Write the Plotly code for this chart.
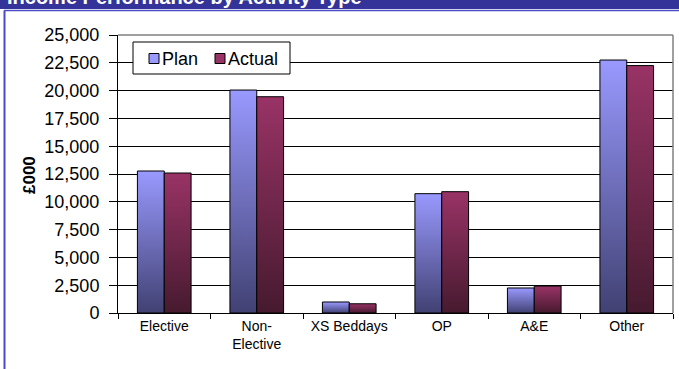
import plotly.graph_objects as go

# Income by activity type, £000
categories = ["Elective", "Non-<br>Elective", "XS Beddays", "OP", "A&E", "Other"]
plan_values = [12770, 20050, 990, 10730, 2250, 22750]
actual_values = [12590, 19450, 830, 10910, 2420, 22250]
y_ticks = list(range(0, 25001, 2500))

series_names = ["Plan", "Actual"]
series_colors = ["#9999ff", "#993366"]
series_shade = ["#414173", "#461a2f"]

FONT = "Liberation Sans, Arial, sans-serif"
W, H = 679, 369
ML, MR, MT, MB = 118, 6, 35, 56
PW, PH = W - ML - MR, H - MT - MB


def px_x(x):
    return (x - ML) / PW


def px_y(y):
    return (H - MB - y) / PH


fig = go.Figure()
for name, vals, col in zip(series_names, [plan_values, actual_values], series_colors):
    fig.add_trace(go.Bar(
        name=name, x=categories, y=vals,
        marker=dict(color=col, line=dict(color="#000000", width=1)),
    ))

shapes = [
    # header band
    dict(type="rect", xref="paper", yref="paper",
         x0=px_x(-5), x1=px_x(W + 5), y0=px_y(9), y1=px_y(-10),
         fillcolor="#333399", line=dict(width=0), layer="below"),
    # panel frame
    dict(type="line", xref="paper", yref="paper",
         x0=px_x(4), x1=px_x(W + 10), y0=px_y(10.5), y1=px_y(10.5),
         line=dict(color="#4b4bc8", width=1.5)),
    dict(type="line", xref="paper", yref="paper",
         x0=px_x(4.5), x1=px_x(4.5), y0=px_y(10.5), y1=px_y(H + 10),
         line=dict(color="#4b4bc8", width=2)),
    # plot area top and right edges
    dict(type="line", xref="paper", yref="paper", x0=0, x1=1, y0=1, y1=1,
         line=dict(color="#808080", width=1.5), layer="above"),
    dict(type="line", xref="paper", yref="paper", x0=1, x1=1, y0=0, y1=1,
         line=dict(color="#808080", width=1.5), layer="above"),
    # legend box
    dict(type="rect", xref="paper", yref="paper",
         x0=px_x(133), x1=px_x(290), y0=px_y(74), y1=px_y(42),
         fillcolor="#ffffff", line=dict(color="#000000", width=1), layer="above"),
]

annotations = [
    dict(text="<b>Income Performance by Activity Type</b>", xref="paper", yref="paper",
         x=px_x(5), y=px_y(-3), xanchor="left", yanchor="middle", showarrow=False,
         font=dict(family=FONT, size=20, color="#ffffff")),
    dict(text="<b>£000</b>", xref="paper", yref="paper", x=px_x(29), y=px_y(175),
         xanchor="center", yanchor="middle", textangle=-90, showarrow=False,
         font=dict(family=FONT, size=17, color="#000000")),
]

# legend keys and labels
key_x = [149, 215]
for kx, name, col in zip(key_x, series_names, series_colors):
    shapes.append(dict(type="rect", xref="paper", yref="paper",
                       x0=px_x(kx), x1=px_x(kx + 10), y0=px_y(63.5), y1=px_y(53.5),
                       fillcolor=col, line=dict(color="#000000", width=1), layer="above"))
    annotations.append(dict(text=name, xref="paper", yref="paper",
                            x=px_x(kx + 12), y=px_y(58.5), xanchor="left", yanchor="middle",
                            showarrow=False, borderpad=0,
                            font=dict(family=FONT, size=18, color="#000000")))

fig.update_layout(
    width=W, height=H,
    margin=dict(l=ML, r=MR, t=MT, b=MB, pad=0),
    paper_bgcolor="#ffffff", plot_bgcolor="#ffffff",
    font=dict(family=FONT, size=14, color="#000000"),
    barmode="group", bargap=0.42, bargroupgap=0,
    showlegend=False,
    shapes=shapes, annotations=annotations,
    xaxis=dict(type="category", showline=True, linecolor="#000000", linewidth=1,
               ticks="outside", tickson="boundaries", ticklen=5, tickcolor="#000000",
               showgrid=False, tickfont=dict(family=FONT, size=14), fixedrange=True),
    yaxis=dict(range=[0, 25000], tickvals=y_ticks, tickformat=",d",
               showline=True, linecolor="#000000", linewidth=1,
               ticks="outside", ticklen=8, tickcolor="#000000",
               ticklabelstandoff=6,
               showgrid=True, gridcolor="#000000", gridwidth=1,
               zeroline=False, tickfont=dict(family=FONT, size=18), fixedrange=True),
)

# Vertical light-to-dark shading on the bars
post_js = """
var gd = document.getElementById('{plot_id}');
var grads = [['gradPlan', '%s', '%s'], ['gradActual', '%s', '%s']];
function shade() {
  var svg = gd.querySelector('svg.main-svg');
  var defs = svg.querySelector('defs');
  var ns = 'http://www.w3.org/2000/svg';
  grads.forEach(function (g) {
    if (document.getElementById(g[0])) return;
    var lg = document.createElementNS(ns, 'linearGradient');
    lg.setAttribute('id', g[0]);
    lg.setAttribute('x1', '0'); lg.setAttribute('y1', '0');
    lg.setAttribute('x2', '0'); lg.setAttribute('y2', '1');
    [[0, g[1]], [1, g[2]]].forEach(function (s) {
      var st = document.createElementNS(ns, 'stop');
      st.setAttribute('offset', s[0]);
      st.setAttribute('stop-color', s[1]);
      lg.appendChild(st);
    });
    defs.appendChild(lg);
  });
  var traces = gd.querySelectorAll('.barlayer .trace');
  traces.forEach(function (tr, i) {
    tr.querySelectorAll('path').forEach(function (p) {
      p.style.fill = 'url(#' + grads[i][0] + ')';
    });
  });
}
shade();
gd.on('plotly_afterplot', shade);
""" % (series_colors[0], series_shade[0], series_colors[1], series_shade[1])

fig.write_html("out.html", post_script=post_js, config={"displayModeBar": False})
